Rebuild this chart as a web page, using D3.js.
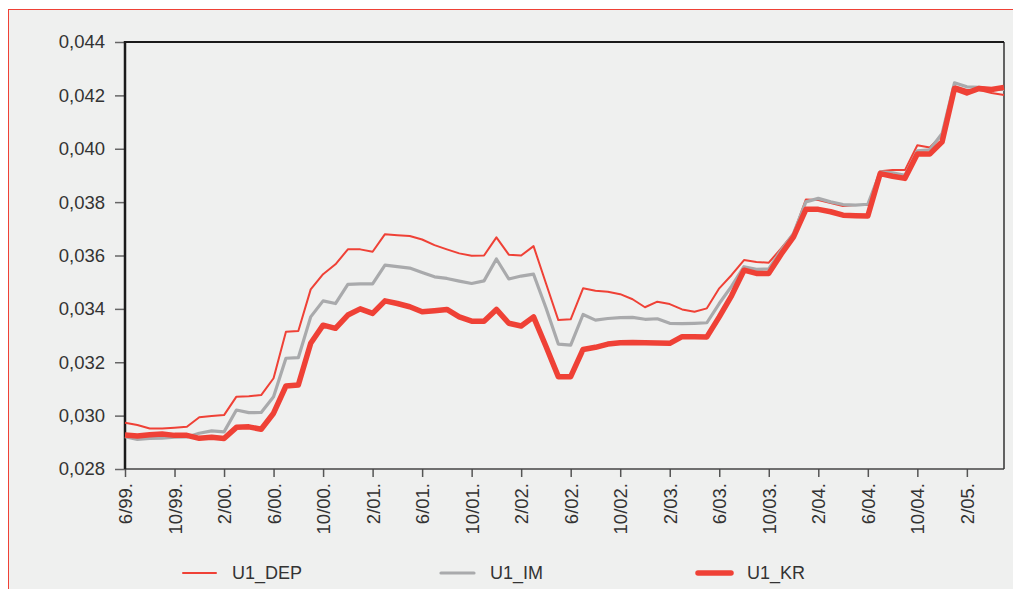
<!DOCTYPE html>
<html>
<head>
<meta charset="utf-8">
<script src="https://cdn.jsdelivr.net/npm/d3@7"></script>
<style>
  html, body { margin: 0; padding: 0; background: #ffffff; }
  svg { display: block; font-family: "Liberation Sans", Arial, sans-serif; }
</style>
</head>
<body>
<svg id="chart" width="1013" height="589"></svg>
<script>
const months = [
  "6/99","7/99","8/99","9/99","10/99","11/99","12/99","1/00","2/00","3/00","4/00","5/00",
  "6/00","7/00","8/00","9/00","10/00","11/00","12/00","1/01","2/01","3/01","4/01","5/01",
  "6/01","7/01","8/01","9/01","10/01","11/01","12/01","1/02","2/02","3/02","4/02","5/02",
  "6/02","7/02","8/02","9/02","10/02","11/02","12/02","1/03","2/03","3/03","4/03","5/03",
  "6/03","7/03","8/03","9/03","10/03","11/03","12/03","1/04","2/04","3/04","4/04","5/04",
  "6/04","7/04","8/04","9/04","10/04","11/04","12/04","1/05","2/05","3/05","4/05","5/05"
];
const tickMonths = ["6/99","10/99","2/00","6/00","10/00","2/01","6/01","10/01","2/02","6/02",
  "10/02","2/03","6/03","10/03","2/04","6/04","10/04","2/05"];
const yTicks = [0.028, 0.030, 0.032, 0.034, 0.036, 0.038, 0.040, 0.042, 0.044];

const u1_dep = [
  0.02973,0.02965,0.02952,0.02952,0.02955,0.02958,0.02994,0.02999,0.03002,0.03071,0.03073,0.03077,
  0.03140,0.03314,0.03317,0.03473,0.03530,0.03567,0.03623,0.03623,0.03614,0.03680,0.03676,0.03673,
  0.03660,0.03639,0.03623,0.03608,0.03599,0.03600,0.03668,0.03603,0.03600,0.03635,0.03496,0.03358,
  0.03361,0.03477,0.03468,0.03464,0.03455,0.03436,0.03406,0.03427,0.03418,0.03398,0.03389,0.03402,
  0.03477,0.03527,0.03583,0.03576,0.03573,0.03627,0.03683,0.03810,0.03808,0.03797,0.03785,0.03789,
  0.03789,0.03916,0.03920,0.03920,0.04013,0.04005,0.04051,0.04235,0.04220,0.04220,0.04209,0.04201
];
const u1_im = [
  0.02921,0.02911,0.02915,0.02916,0.02919,0.02920,0.02934,0.02943,0.02939,0.03021,0.03011,0.03012,
  0.03071,0.03215,0.03217,0.03370,0.03430,0.03420,0.03492,0.03494,0.03494,0.03564,0.03558,0.03553,
  0.03536,0.03520,0.03514,0.03504,0.03495,0.03505,0.03587,0.03512,0.03523,0.03530,0.03404,0.03268,
  0.03264,0.03379,0.03358,0.03364,0.03367,0.03368,0.03361,0.03363,0.03346,0.03345,0.03346,0.03348,
  0.03420,0.03485,0.03558,0.03548,0.03550,0.03620,0.03683,0.03801,0.03814,0.03801,0.03791,0.03789,
  0.03792,0.03913,0.03910,0.03900,0.03992,0.03996,0.04057,0.04247,0.04232,0.04230,0.04222,0.04222
];
const u1_kr = [
  0.02927,0.02924,0.02928,0.02931,0.02926,0.02926,0.02915,0.02919,0.02914,0.02956,0.02958,0.02949,
  0.03009,0.03111,0.03115,0.03271,0.03339,0.03327,0.03377,0.03400,0.03383,0.03430,0.03420,0.03408,
  0.03389,0.03393,0.03398,0.03370,0.03354,0.03354,0.03398,0.03346,0.03336,0.03370,0.03260,0.03146,
  0.03146,0.03248,0.03256,0.03268,0.03273,0.03274,0.03273,0.03272,0.03271,0.03296,0.03296,0.03295,
  0.03370,0.03450,0.03545,0.03533,0.03533,0.03605,0.03670,0.03773,0.03773,0.03764,0.03751,0.03749,
  0.03748,0.03907,0.03897,0.03889,0.03980,0.03980,0.04026,0.04226,0.04209,0.04226,0.04222,0.04230
];
const seriesNames = ["U1_DEP", "U1_IM", "U1_KR"];

const RED = "#ef4136", GRAY = "#a9aaac", BG = "#eff0ef";
const svg = d3.select("#chart");

// outer panel with red frame on top/left
svg.append("rect").attr("x", 8.5).attr("y", 9.5).attr("width", 1020).attr("height", 600)
  .attr("fill", BG).attr("stroke", RED).attr("stroke-width", 1);

const L = 125, R = 1004, T = 42, B = 469;
const x = d3.scalePoint().domain(months).range([L, R]);
const y = d3.scaleLinear().domain([0.028, 0.044]).range([B, T]);

const fmt = v => d3.format(".3f")(v).replace(".", ",");

// y axis
const yAxis = svg.append("g").attr("transform", `translate(${L},0)`)
  .call(d3.axisLeft(y).tickValues(yTicks).tickFormat(fmt).tickSize(10).tickPadding(10));
yAxis.select(".domain").remove();
yAxis.selectAll(".tick line").attr("stroke", "#666").attr("stroke-width", 1.5);
yAxis.selectAll(".tick text").attr("fill", "#333").style("font-size", "18.5px");

// x axis
const xAxis = svg.append("g").attr("transform", `translate(0,${B})`)
  .call(d3.axisBottom(x).tickValues(tickMonths).tickFormat(d => d + ".").tickSize(8));
xAxis.select(".domain").remove();
xAxis.selectAll(".tick line").attr("stroke", "#555").attr("stroke-width", 1.5);
xAxis.selectAll(".tick text").attr("fill", "#333").style("font-size", "18.5px")
  .attr("text-anchor", "end").attr("dy", "0.35em")
  .attr("transform", "translate(0,6) rotate(-90)").attr("x", -8).attr("y", 0);

// plot frame
svg.append("line").attr("x1", L).attr("x2", R).attr("y1", B).attr("y2", B).attr("stroke", "#444").attr("stroke-width", 1.5);
svg.append("line").attr("x1", R).attr("x2", R).attr("y1", T).attr("y2", B).attr("stroke", "#333").attr("stroke-width", 1.5);
svg.append("line").attr("x1", L).attr("x2", R).attr("y1", T).attr("y2", T).attr("stroke", "#1a1a1a").attr("stroke-width", 2);
svg.append("line").attr("x1", L).attr("x2", L).attr("y1", T - 1).attr("y2", B).attr("stroke", "#1a1a1a").attr("stroke-width", 2.5);

const line = d3.line().x((d, i) => x(months[i])).y(d => y(d));
const series = [
  { name: seriesNames[0], values: u1_dep, color: RED, width: 2 },
  { name: seriesNames[1], values: u1_im, color: GRAY, width: 3.2 },
  { name: seriesNames[2], values: u1_kr, color: RED, width: 5.5 }
];
series.forEach(s => {
  svg.append("path").datum(s.values).attr("d", line)
    .attr("fill", "none").attr("stroke", s.color).attr("stroke-width", s.width)
    .attr("stroke-linejoin", "round").attr("stroke-linecap", "butt");
});

// legend
const legX = [183, 441, 698];
const leg = svg.append("g");
series.forEach((s, i) => {
  leg.append("line").attr("x1", legX[i]).attr("x2", legX[i] + 33)
    .attr("y1", 573).attr("y2", 573)
    .attr("stroke", s.color).attr("stroke-width", s.width).attr("stroke-linecap", "round");
  leg.append("text").attr("x", legX[i] + 49).attr("y", 573).attr("dy", "0.35em")
    .attr("fill", "#333").style("font-size", "18px").text(s.name);
});
</script>
</body>
</html>
